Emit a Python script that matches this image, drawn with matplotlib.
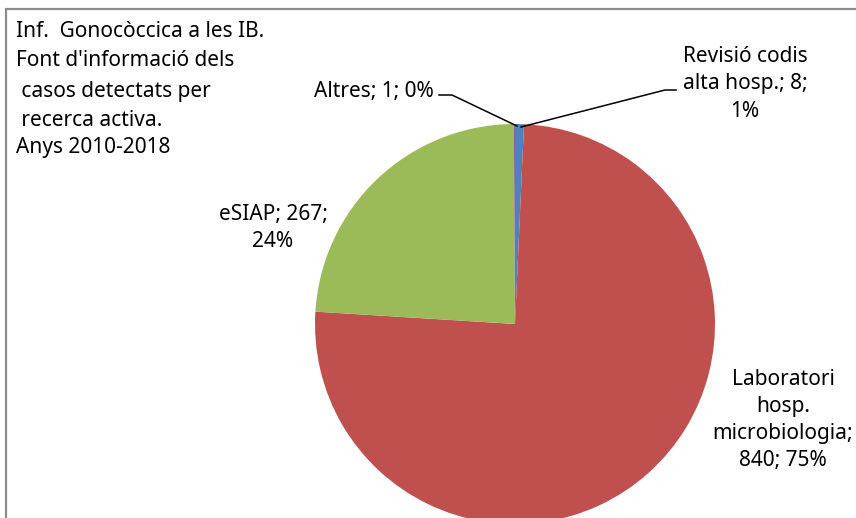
import matplotlib.pyplot as plt
from matplotlib.patches import Rectangle

plt.rcParams["font.family"] = ["Noto Sans", "DejaVu Sans"]

# data
names = ["Revisió codis\nalta hosp.", "Laboratori\nhosp.\nmicrobiologia", "eSIAP", "Altres"]
values = [8, 840, 267, 1]
colors = ["#4F81BD", "#C0504D", "#9BBB59", "#8064A2"]
# separators after name and after value (label wrapping)
seps = [("; ", ";\n"), (";\n", "; "), ("; ", ";\n"), ("; ", "; ")]

title_lines = ["Inf.  Gonocòccica a les IB.", "Font d'informació dels",
               " casos detectats per", " recerca activa.", "Anys 2010-2018"]

W, H = 856, 518
fig = plt.figure(figsize=(W / 100, H / 100), dpi=100)
ax = fig.add_axes([0, 0, 1, 1])

cx, cy, r = 515, H - 324, 200
wedges, _ = ax.pie(values, colors=colors, startangle=90, counterclock=False,
                   center=(cx, cy), radius=r, frame=True,
                   wedgeprops=dict(linewidth=0))
ax.set_xlim(0, W)
ax.set_ylim(0, H)
ax.set_aspect("equal")
ax.axis("off")

total = sum(values)
labels = [f"{n}{s1}{v}{s2}{round(100 * v / total)}%"
          for n, v, (s1, s2) in zip(names, values, seps)]

fs = 15
ls = 1.38
# label positions (pixels from top-left)
ax.text(745, H - 84, labels[0], ha="center", va="center", fontsize=fs, linespacing=ls)
ax.text(783, H - 420, labels[1], ha="center", va="center", fontsize=fs, linespacing=ls)
ax.text(273, H - 228, labels[2], ha="center", va="center", fontsize=fs, linespacing=ls)
ax.text(434, H - 91, labels[3], ha="right", va="center", fontsize=fs)

# leader lines
ax.plot([439, 452, 517], [H - 95, H - 95, H - 126], color="black", lw=1.1)
ax.plot([521, 665, 676], [H - 127, H - 90, H - 90], color="black", lw=1.1)

# title
baselines = [37, 66, 97, 126, 153]
for line, b in zip(title_lines, baselines):
    ax.text(16, H - b, line, ha="left", va="baseline", fontsize=fs)

# chart border
ax.add_patch(Rectangle((6.5, -20), W + 20, H - 9 + 20, fill=False,
                       edgecolor="#8c8c8c", lw=1.6, clip_on=False))

fig.savefig("out.png", dpi=100)
